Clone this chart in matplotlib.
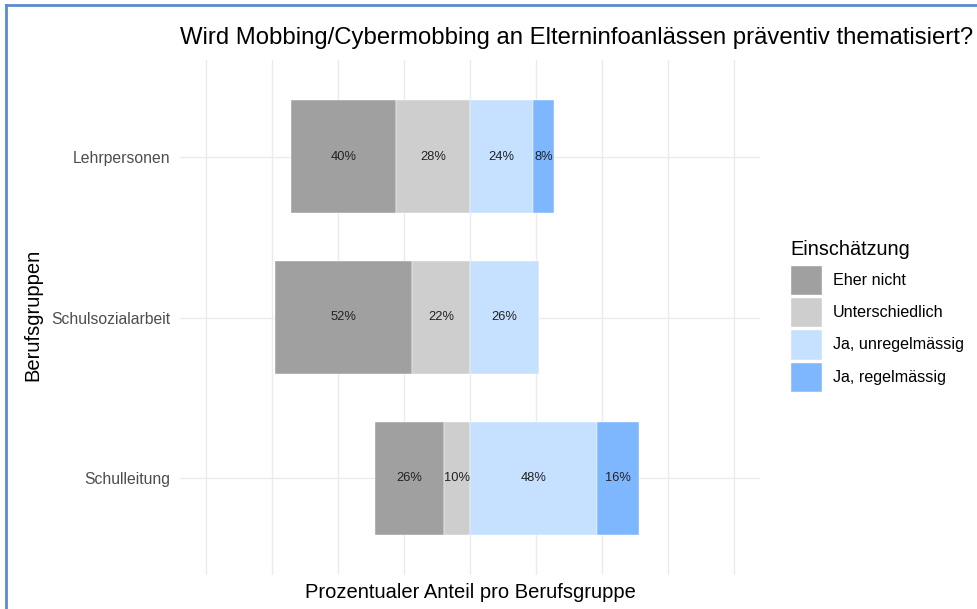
import numpy as np
import matplotlib.pyplot as plt
from matplotlib.patches import Patch
from matplotlib.lines import Line2D

plt.rcParams['font.family'] = ['Liberation Sans', 'DejaVu Sans']

# data (percent per group)
groups = ["Lehrpersonen", "Schulsozialarbeit", "Schulleitung"]
categories = ["Eher nicht", "Unterschiedlich", "Ja, unregelmässig", "Ja, regelmässig"]
eher_nicht = [40, 52, 26]
unterschiedlich = [28, 22, 10]
ja_unregelmaessig = [24, 26, 48]
ja_regelmaessig = [8, 0, 16]
colors = ["#a0a0a0", "#cecece", "#c6e0ff", "#7fb7ff"]

fig = plt.figure(figsize=(9.77, 6.09), dpi=100)
W, H = 977, 609
ax = fig.add_axes([180 / W, 1 - 575 / H, 580 / W, 515 / H])

y = np.arange(len(groups))[::-1]  # Lehrpersonen on top
h = 0.7

# negative side: Unterschiedlich next to center, Eher nicht outside
neg_inner = -np.array(unterschiedlich, dtype=float)
neg_outer = neg_inner - np.array(eher_nicht)
pos_inner = np.array(ja_unregelmaessig, dtype=float)

segments = [
    (neg_outer, np.array(eher_nicht), eher_nicht, colors[0]),
    (neg_inner, np.array(unterschiedlich), unterschiedlich, colors[1]),
    (np.zeros(3), pos_inner, ja_unregelmaessig, colors[2]),
    (pos_inner, np.array(ja_regelmaessig), ja_regelmaessig, colors[3]),
]
for left, width, vals, c in segments:
    ax.barh(y, width, left=left, height=h, color=c, edgecolor="white", linewidth=0.3, zorder=2)
    for yi, l, w, v in zip(y, left, width, vals):
        if v > 0:
            ax.text(l + w / 2, yi, f"{v}%", ha="center", va="center",
                    fontsize=9.3, color="#222222", zorder=3)

ax.set_xlim(-110, 110)
ax.set_ylim(-0.6, 2.6)
ax.set_xticks(np.arange(-100, 101, 25))
ax.set_xticklabels([])
ax.set_yticks(y)
ax.set_yticklabels(groups, fontsize=11.3, color="#4d4d4d")
ax.tick_params(length=0, pad=7)
ax.grid(True, color="#ebebeb", linewidth=1.0, zorder=0)
for s in ax.spines.values():
    s.set_visible(False)

fig.text(33 / W, 1 - 315 / H, "Berufsgruppen", rotation=90,
         ha="center", va="center", fontsize=14.5)
fig.text(470 / W, 1 - 593 / H, "Prozentualer Anteil pro Berufsgruppe",
         ha="center", va="center", fontsize=14.5)

fig.text(180 / W, 1 - 38 / H, "Wird Mobbing/Cybermobbing an Elterninfoanlässen präventiv thematisiert?",
         ha="left", va="center", fontsize=17.2)

handles = [Patch(facecolor=c, edgecolor="white", label=l) for c, l in zip(colors, categories)]
leg = fig.legend(handles=handles, title="Einschätzung", loc="upper left",
                 bbox_to_anchor=(784 / W, 1 - 234 / H), frameon=False,
                 fontsize=11.6, title_fontsize=14.3, handlelength=1.95, handleheight=2.5,
                 handletextpad=0.7, labelspacing=0.13, borderaxespad=0)
leg._legend_box.align = "left"
leg._legend_box.sep = 4

# border of the screenshot
fig.add_artist(Line2D([6 / W, 6 / W], [0, 1 - 5 / H], color="#5b8bd0", linewidth=2))
fig.add_artist(Line2D([6 / W, 1], [1 - 5 / H, 1 - 5 / H], color="#5b8bd0", linewidth=2))

fig.savefig("out.png", dpi=100)
